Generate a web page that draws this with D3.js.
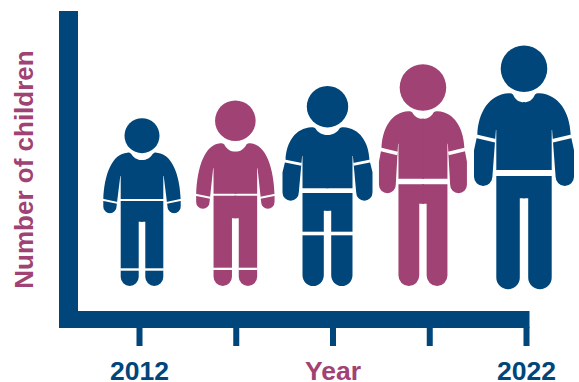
<!DOCTYPE html>
<html>
<head>
<meta charset="utf-8">
<style>
  html, body { margin: 0; padding: 0; background: #fff; }
  svg { display: block; }
  text { font-family: "Liberation Sans", Arial, sans-serif; font-weight: 700; }
</style>
<script src="https://cdn.jsdelivr.net/npm/d3@7"></script>
</head>
<body>
<script>
// Chart content
const tickKeys = ["a", "b", "c", "d", "e"];
const tickLabels = ["2012", "", "Year", "", "2022"];
const relativeCounts = [68.8, 76.1, 82, 90.9, 100];
const yAxisTitle = "Number of children";

const NAVY = "#00467a";
const PLUM = "#a04273";
const figureColors = [NAVY, PLUM, NAVY, PLUM, NAVY];
const tickLabelColors = [NAVY, NAVY, PLUM, NAVY, NAVY];

// Drafting measurements of each pictogram, in units measured down from the crown.
const figureBuilds = [
  { stature: 167.8, nudge: 2.5,  drop: 0,   headR: 17.5, shoulder: 34.5, notch: 41.8, neck: 10.7, shOut: 38.7, armOut: 38.7, armIn: 25.5, torso: 21.3, armpit: 57.8, cuffOut: 81.8, cuffIn: 84.5, cuffT: 2,   hand: 95.1,  waistTop: 80.8,  waistBot: 82.8,  crotch: 103.5, gap: 3.3, cut: [150.1, 152.5] },
  { stature: 185.6, nudge: -0.9, drop: 0,   headR: 20.3, shoulder: 42.9, notch: 51.3, neck: 11,   shOut: 39.2, armOut: 39.2, armIn: 25.8, torso: 21.8, armpit: 67.9, cuffOut: 94.6, cuffIn: 97.3, cuffT: 2,   hand: 108.3, waistTop: 93.3,  waistBot: 95.3,  crotch: 117.9, gap: 3.4, cut: [167.3, 169.6] },
  { stature: 200,   nudge: -5.5, drop: 0,   headR: 20.7, shoulder: 41.3, notch: 49,   neck: 12,   shOut: 42,   armOut: 45,   armIn: 28.7, torso: 25,   armpit: 70,   cuffOut: 74,   cuffIn: 77.3, cuffT: 3,   hand: 114.7, waistTop: 102.3, waistBot: 107,   crotch: 124.7, gap: 3.7, cut: [145.7, 149.3] },
  { stature: 221.8, nudge: -6.8, drop: 0,   headR: 23.3, shoulder: 47,   notch: 54.6, neck: 10.6, shOut: 41.5, armOut: 44,   armIn: 27.2, torso: 24.5, armpit: 79.6, cuffOut: 84,   cuffIn: 88,   cuffT: 3.5, hand: 129,   waistTop: 114.6, waistBot: 120,   crotch: 139.6, gap: 3.7, cut: null },
  { stature: 243.9, nudge: -2.5, drop: 3.3, headR: 23.3, shoulder: 47.9, notch: 56.9, neck: 11,   shOut: 46.7, armOut: 50,   armIn: 31.6, torso: 27.7, armpit: 84.6, cuffOut: 89.6, cuffIn: 93.9, cuffT: 3.5, hand: 140.6, waistTop: 124.6, waistBot: 130.6, crotch: 152.9, gap: 4.2, cut: null }
];

const width = 579, height = 382;
const baselineY = 286;
const axisColor = NAVY;

const svg = d3.select("body").append("svg")
  .attr("width", width).attr("height", height).attr("viewBox", [0, 0, width, height]);

const x = d3.scalePoint().domain(tickKeys).range([139.5, 526.5]);
const stature = d3.scaleLinear().domain([0, 100]).range([0, 243.9]);

// Axes: thick L-shaped frame with short ticks beneath it
const axisG = svg.append("g").attr("class", "axis");
const frame = d3.path();
frame.moveTo(59, 11); frame.lineTo(78, 11); frame.lineTo(78, 311);
frame.lineTo(529.5, 311); frame.lineTo(529.5, 328); frame.lineTo(59, 328); frame.closePath();
axisG.append("path").attr("d", frame.toString()).attr("fill", axisColor);

axisG.selectAll("rect.tick").data(tickKeys).join("rect")
  .attr("class", "tick")
  .attr("x", d => x(d) - 3).attr("y", 327).attr("width", 6).attr("height", 19)
  .attr("fill", axisColor);

axisG.selectAll("text.tick-label").data(tickLabels).join("text")
  .attr("class", "tick-label")
  .attr("x", (d, i) => x(tickKeys[i]))
  .attr("y", 379.7)
  .attr("text-anchor", "middle")
  .attr("font-size", 26.5)
  .attr("fill", (d, i) => tickLabelColors[i])
  .text(d => d);

svg.append("text")
  .attr("transform", "translate(33.4,169.5) rotate(-90)")
  .attr("text-anchor", "middle")
  .attr("font-size", 26)
  .attr("fill", PLUM)
  .text(yAxisTitle);

// One half of the upper body: shirt, arm and hand
function bodyHalf(b) {
  const p = d3.path();
  const handR = (b.armOut - b.armIn) / 2;
  const ridge = b.neck + 4;
  p.moveTo(-1, b.notch);
  p.lineTo(0, b.notch);
  p.bezierCurveTo(b.neck * 0.45, b.notch, b.neck * 0.8, b.notch - 2.5, b.neck, b.shoulder + 1.2);
  p.quadraticCurveTo(b.neck + 1.8, b.shoulder - 0.4, ridge, b.shoulder);
  p.bezierCurveTo(ridge + (b.shOut - ridge) * 0.62, b.shoulder + 0.8,
                  b.shOut - 0.8, b.shoulder + (b.cuffOut - b.shoulder) * 0.45,
                  b.shOut, b.cuffOut);
  p.lineTo(b.armOut, b.cuffOut + (b.hand - b.cuffOut) * 0.3);
  p.lineTo(b.armOut, b.hand - handR);
  p.arc(b.armIn + handR, b.hand - handR, handR, 0, Math.PI);
  p.lineTo(b.torso + 0.4, b.armpit);
  p.lineTo(b.torso, b.armpit);
  p.lineTo(b.torso, b.waistTop);
  p.lineTo(-1, b.waistTop);
  p.closePath();
  return p.toString();
}

// One half of the trousers: a single leg down to the rounded foot
function legHalf(b) {
  const p = d3.path();
  const footR = (b.torso - b.gap) / 2;
  p.moveTo(-1, b.waistBot);
  p.lineTo(b.torso, b.waistBot);
  p.lineTo(b.torso, b.stature - footR);
  p.arc(b.gap + footR, b.stature - footR, footR, 0, Math.PI);
  p.lineTo(b.gap, b.crotch);
  p.lineTo(-1, b.crotch);
  p.closePath();
  return p.toString();
}

const figures = svg.selectAll("g.child").data(relativeCounts).join("g")
  .attr("class", "child")
  .attr("transform", (d, i) => {
    const b = figureBuilds[i];
    const k = stature(d) / b.stature;
    const top = baselineY + b.drop - stature(d);
    return `translate(${x(tickKeys[i]) + b.nudge},${top}) scale(${k})`;
  })
  .attr("fill", (d, i) => figureColors[i]);

figures.each(function (d, i) {
  const b = figureBuilds[i];
  const g = d3.select(this);
  g.append("circle").attr("cx", 0).attr("cy", b.headR).attr("r", b.headR);

  [1, -1].forEach(side => {
    const half = g.append("g").attr("transform", `scale(${side},1)`);
    half.append("path").attr("d", bodyHalf(b));
    half.append("path").attr("d", legHalf(b));

    // White slit across the arm at the sleeve end
    const run = (b.cuffIn - b.cuffOut) / (b.armOut - b.armIn);
    const x0 = b.armOut + 2, x1 = b.torso + 0.9;
    half.append("line")
      .attr("x1", x0).attr("y1", b.cuffOut - run * 2 + b.cuffT / 2 - 1)
      .attr("x2", x1).attr("y2", b.cuffOut + run * (b.armOut - x1) + b.cuffT / 2 - 1)
      .attr("stroke", "#fff").attr("stroke-width", b.cuffT);

    // White slit across the leg at the hem
    if (b.cut) {
      half.append("rect")
        .attr("x", b.gap - 0.5).attr("y", b.cut[0])
        .attr("width", b.torso - b.gap + 1).attr("height", b.cut[1] - b.cut[0])
        .attr("fill", "#fff");
    }
  });
});
</script>
</body>
</html>
